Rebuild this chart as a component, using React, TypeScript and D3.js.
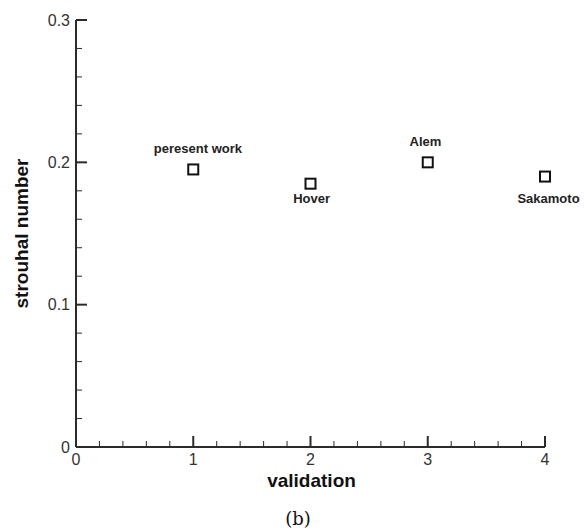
import React from "react";
import * as d3 from "d3";

const categories = [1, 2, 3, 4];
const strouhal = [0.195, 0.185, 0.2, 0.19];
const labels = ["peresent work", "Hover", "Alem", "Sakamoto"];
const labelX = [1.04, 2.01, 2.98, 4.03];
const labelY = [0.21, 0.175, 0.215, 0.175];
const xTicks = [0, 1, 2, 3, 4];
const yTicks = [0, 0.1, 0.2, 0.3];
const yTickLabels = ["0", "0.1", "0.2", "0.3"];

const W = 584;
const H = 530;
const AX = "#2b2b2b";
const FONT = "'Liberation Sans', Arial, sans-serif";

export default function App() {
  const x = d3.scaleLinear().domain([0, 4]).range([76, 545]);
  const y = d3.scaleLinear().domain([0, 0.3]).range([447, 20]);
  const xMinor = d3.range(0, 4.0001, 0.2).filter((v) => Math.abs(v - Math.round(v)) > 1e-6);
  const yMinor = d3.range(0, 0.3001, 0.02).filter((v) => Math.abs(v * 10 - Math.round(v * 10)) > 1e-6);
  const x0 = x(0);
  const y0 = y(0);
  return (
    <svg width={W} height={H} style={{ position: "absolute", left: 0, top: 0, background: "#fff" }} fontFamily={FONT}>
      {/* axes */}
      <line x1={x0} x2={x0} y1={y(0.3)} y2={y0} stroke={AX} strokeWidth={2} />
      <line x1={x0} x2={x(4)} y1={y0} y2={y0} stroke={AX} strokeWidth={2} />
      {yTicks.map((v) => (
        <line key={"ym" + v} x1={x0} x2={x0 + 11} y1={y(v)} y2={y(v)} stroke={AX} strokeWidth={2} />
      ))}
      {yMinor.map((v) => (
        <line key={"yn" + v} x1={x0} x2={x0 + 6} y1={y(v)} y2={y(v)} stroke={AX} strokeWidth={1} />
      ))}
      {xTicks.map((v) => (
        <line key={"xm" + v} x1={x(v)} x2={x(v)} y1={y0} y2={y0 - 11} stroke={AX} strokeWidth={2} />
      ))}
      {xMinor.map((v) => (
        <line key={"xn" + v} x1={x(v)} x2={x(v)} y1={y0} y2={y0 - 6} stroke={AX} strokeWidth={1} />
      ))}
      {yTicks.map((v, i) => (
        <text key={"yl" + v} x={70} y={y(v)} dy="0.36em" textAnchor="end" fontSize={16} fill="#333">
          {yTickLabels[i]}
        </text>
      ))}
      {xTicks.map((v) => (
        <text key={"xl" + v} x={x(v)} y={464.5} textAnchor="middle" fontSize={16} fill="#333">
          {v}
        </text>
      ))}
      <text x={(x(0) + x(4)) / 2 + 1} y={487} textAnchor="middle" fontSize={19} fontWeight="bold" fill="#111">
        validation
      </text>
      <text
        transform={`translate(28, ${(y(0) + y(0.3)) / 2}) rotate(-90)`}
        textAnchor="middle"
        fontSize={19}
        fontWeight="bold"
        fill="#111"
      >
        strouhal number
      </text>
      {/* markers */}
      {categories.map((c, i) => (
        <rect
          key={"m" + c}
          x={x(c) - 5}
          y={y(strouhal[i]) - 5}
          width={10}
          height={10}
          fill="none"
          stroke="#111"
          strokeWidth={2}
        />
      ))}
      {labels.map((l, i) => (
        <text key={"lb" + i} x={x(labelX[i])} y={y(labelY[i])} dy="0.36em" textAnchor="middle" fontSize={13} fontWeight="bold" fill="#222">
          {l}
        </text>
      ))}
      <text x={298} y={525} textAnchor="middle" fontSize={18} fontFamily="'DejaVu Serif', serif" fill="#111">
        (b)
      </text>
    </svg>
  );
}
